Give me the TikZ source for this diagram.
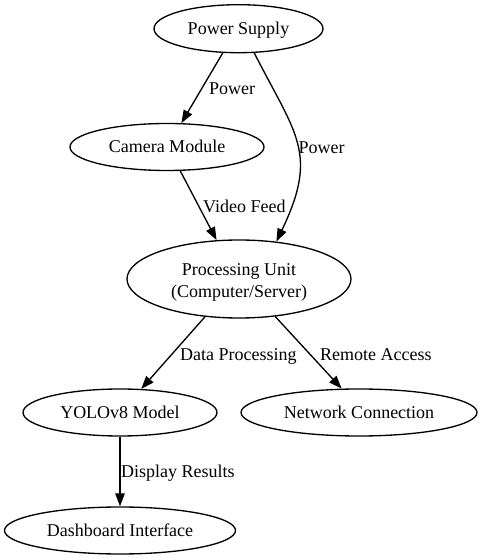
\documentclass[tikz,border=0pt]{standalone}
\usepackage{fontspec}
\setmainfont{Liberation Serif}
\usetikzlibrary{arrows.meta,shapes.geometric}
\tikzset{
  gnode/.style={draw=black, line width=1.33pt, ellipse, inner sep=0pt, font=\fontsize{18}{22}\selectfont},
  oneline/.style={text height=12pt, text depth=-4.5pt},
  edge/.style={draw=black, line width=1.33pt, -{Triangle[length=13pt,width=9.5pt]}},
  elabel/.style={anchor=base west, inner sep=0pt, font=\fontsize{18}{22}\selectfont}
}
\begin{document}
\begin{tikzpicture}[x=1pt,y=1pt]
\useasboundingbox (0,0) rectangle (482,560);
\fill[white] (0,0) rectangle (482,560);
% nodes
\node[gnode, oneline, minimum width=169pt, minimum height=48pt] (ps) at (238.5,531.3) {Power Supply};
\node[gnode, oneline, minimum width=194pt, minimum height=47pt] (cam) at (167,413) {Camera Module};
\node[gnode, minimum width=224pt, minimum height=78pt, align=center] (proc) at (239,281) {\rule{0pt}{19.5pt}Processing Unit\\(Computer/Server)};
\node[gnode, oneline, minimum width=194pt, minimum height=47pt] (yolo) at (120,147.5) {YOLOv8 Model};
\node[gnode, oneline, minimum width=236pt, minimum height=47pt] (net) at (359,147.5) {Network Connection};
\node[gnode, oneline, minimum width=231pt, minimum height=47pt] (dash) at (120,29.5) {Dashboard Interface};
% edges
\draw[edge] (ps.-123) -- (cam.59);
\draw[edge] (ps.-57) .. controls (296,425) and (318.9,407) .. (proc.45);
\draw[edge] (cam.-61) -- (proc.120);
\draw[edge] (proc.-132) -- (yolo.48);
\draw[edge] (proc.-46) -- (net.126);
\draw[edge] (yolo.-90) -- (dash.90);
% edge labels
\node[elabel] (l1) at (209,465) {Power};
\node[elabel] (l2) at (298.5,406) {Power};
\node[elabel] (l3) at (203,347) {Video Feed};
\node[elabel] (l4) at (180,199.5) {Data Processing};
\node[elabel] (l5) at (320,199.5) {Remote Access};
\node[elabel] (l6) at (121,82) {Display Results};
\end{tikzpicture}
\end{document}
